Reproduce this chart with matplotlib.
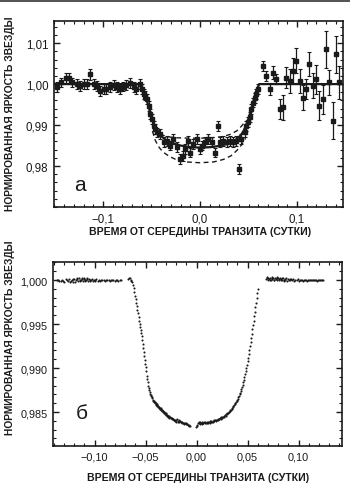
import matplotlib
matplotlib.use("Agg")
import matplotlib.pyplot as plt
from matplotlib.ticker import MultipleLocator
from matplotlib.patches import Rectangle

plt.rcParams['font.family'] = ['Liberation Sans', 'DejaVu Sans']

# ---------------- panel (a) data ----------------
top_t = [-0.1477, -0.1436, -0.1385, -0.1350, -0.1316, -0.1272, -0.1238, -0.1197, -0.1162, -0.1135,
         -0.1094, -0.1060, -0.1026, -0.0991, -0.0964, -0.0930, -0.0889, -0.0855, -0.0827, -0.0793,
         -0.0759, -0.0718, -0.0684, -0.0656, -0.0622,
         -0.0598, -0.0581, -0.0564, -0.0547, -0.0530, -0.0513, -0.0496, -0.0479, -0.0462, -0.0444,
         -0.0410, -0.0376, -0.0342,
         -0.0308, -0.0274, -0.0239, -0.0205, -0.0178, -0.0154, -0.0120, -0.0103, -0.0068, -0.0034,
         0.0000, 0.0017, 0.0051, 0.0085, 0.0120, 0.0154, 0.0188, 0.0205, 0.0239, 0.0274, 0.0308,
         0.0342, 0.0376, 0.0403, 0.0427, 0.0462, 0.0479, 0.0496, 0.0513, 0.0530, 0.0547, 0.0564,
         0.0581, 0.0598,
         0.0650, 0.0684, 0.0718, 0.0752, 0.0786, 0.0821, 0.0855, 0.0889, 0.0923, 0.0957, 0.0991,
         0.1026, 0.1060, 0.1094, 0.1128, 0.1162, 0.1197, 0.1231, 0.1265, 0.1299, 0.1333, 0.1368,
         0.1402, 0.1436]
top_f = [0.9992, 1.0004, 1.0014, 1.0015, 1.0004, 1.0000, 0.9996, 1.0000, 1.0000, 1.0024,
         1.0000, 0.9996, 0.9984, 0.9988, 0.9989, 0.9992, 0.9998, 0.9992, 0.9988, 0.9994,
         0.9998, 1.0002, 0.9992, 0.9989, 1.0000,
         0.9988, 0.9976, 0.9972, 0.9963, 0.9947, 0.9927, 0.9915, 0.9898, 0.9890, 0.9882,
         0.9878, 0.9858, 0.9862,
         0.9850, 0.9866, 0.9846, 0.9817, 0.9825, 0.9841, 0.9862, 0.9833, 0.9854, 0.9866,
         0.9841, 0.9850, 0.9858, 0.9866, 0.9858, 0.9833, 0.9898, 0.9858, 0.9862, 0.9858, 0.9862,
         0.9858, 0.9862, 0.9793, 0.9866, 0.9882, 0.9898, 0.9907, 0.9919, 0.9939, 0.9955, 0.9967,
         0.9976, 0.9988,
         1.0045, 1.0020, 0.9988, 1.0028, 1.0012, 0.9939, 0.9943, 1.0016, 1.0008, 1.0033, 1.0057,
         1.0008, 0.9967, 0.9988, 1.0049, 0.9996, 1.0012, 0.9947, 0.9963, 1.0085, 1.0004, 0.9911,
         1.0073, 1.0004]
top_e = [0.0012, 0.0012, 0.0012, 0.0012, 0.0012, 0.0012, 0.0012, 0.0012, 0.0012, 0.0013,
         0.0012, 0.0012, 0.0012, 0.0012, 0.0012, 0.0012, 0.0012, 0.0012, 0.0012, 0.0012,
         0.0012, 0.0012, 0.0012, 0.0012, 0.0012,
         0.0012, 0.0012, 0.0012, 0.0012, 0.0012, 0.0012, 0.0012, 0.0012, 0.0012, 0.0012,
         0.0012, 0.0012, 0.0012,
         0.0012, 0.0012, 0.0012, 0.0012, 0.0012, 0.0012, 0.0012, 0.0012, 0.0012, 0.0012,
         0.0012, 0.0012, 0.0012, 0.0012, 0.0012, 0.0012, 0.0012, 0.0012, 0.0012, 0.0012, 0.0012,
         0.0012, 0.0012, 0.0012, 0.0012, 0.0012, 0.0012, 0.0012, 0.0012, 0.0012, 0.0012, 0.0012,
         0.0012, 0.0012,
         0.0012, 0.0012, 0.0015, 0.0015, 0.0012, 0.0025, 0.0030, 0.0025, 0.0030, 0.0030, 0.0030,
         0.0030, 0.0030, 0.0025, 0.0030, 0.0030, 0.0035, 0.0035, 0.0035, 0.0045, 0.0030, 0.0045,
         0.0045, 0.0040]

# best-fit model (solid) and uncertainty envelope (dashed)
fit_t = [-0.150, -0.062, -0.058, -0.055, -0.052, -0.049, -0.046, -0.042, -0.036, -0.030,
         -0.020, -0.010, 0.000, 0.010, 0.020, 0.030, 0.036, 0.042, 0.046, 0.049,
         0.052, 0.055, 0.058, 0.061, 0.150]
fit_f = [1.0000, 1.0000, 0.9985, 0.9962, 0.9937, 0.9912, 0.9893, 0.9877, 0.9865, 0.9857,
         0.9850, 0.9846, 0.9845, 0.9846, 0.9849, 0.9855, 0.9862, 0.9875, 0.9890, 0.9908,
         0.9932, 0.9958, 0.9984, 1.0000, 1.0000]
hi_t = [-0.047, -0.043, -0.038, -0.032, -0.024, -0.012, 0.000, 0.012, 0.024, 0.032,
        0.038, 0.043, 0.047]
hi_f = [0.9893, 0.9882, 0.9875, 0.9871, 0.9869, 0.9868, 0.9868, 0.9869, 0.9872, 0.9878,
        0.9886, 0.9898, 0.9910]
lo_t = [-0.049, -0.046, -0.042, -0.038, -0.032, -0.024, -0.014, 0.000, 0.014, 0.024,
        0.032, 0.038, 0.043, 0.047]
lo_f = [0.9885, 0.9862, 0.9845, 0.9834, 0.9824, 0.9815, 0.9810, 0.9808, 0.9810, 0.9816,
        0.9825, 0.9838, 0.9852, 0.9868]

top_xticks = [-0.1, 0.0, 0.1]
top_xlabels = ['\u22120,1', '0,0', '0,1']
top_yticks = [0.98, 0.99, 1.00, 1.01]
top_ylabels = ['0,98', '0,99', '1,00', '1,01']

# ---------------- panel (б) data ----------------
pre_pts = [(-0.1370, 0.99995), (-0.1358, 1.00002), (-0.1345, 0.99985), (-0.1333, 0.99990),
           (-0.1320, 1.00005), (-0.1308, 0.99992), (-0.1296, 0.99980), (-0.1283, 1.00008),
           (-0.1271, 0.99996), (-0.1259, 0.99988), (-0.1246, 1.00012), (-0.1234, 0.99990),
           (-0.1222, 1.00006), (-0.1210, 0.99982), (-0.1198, 1.00015), (-0.1186, 0.99995),
           (-0.1174, 1.00010), (-0.1162, 0.99985), (-0.1150, 1.00018), (-0.1138, 0.99998),
           (-0.1126, 1.00012), (-0.1114, 0.99988), (-0.1102, 1.00020), (-0.1090, 1.00002),
           (-0.1078, 1.00015), (-0.1066, 0.99992), (-0.1054, 1.00010), (-0.1042, 0.99996),
           (-0.1030, 1.00006), (-0.1018, 0.99990), (-0.1006, 1.00004), (-0.0994, 0.99998),
           (-0.0982, 1.00008), (-0.0970, 0.99994), (-0.0958, 1.00002), (-0.0946, 0.99990),
           (-0.0934, 1.00005), (-0.0922, 0.99997), (-0.0910, 1.00003), (-0.0898, 0.99992),
           (-0.0886, 1.00001), (-0.0874, 0.99996), (-0.0862, 1.00004), (-0.0850, 0.99993),
           (-0.0838, 1.00000), (-0.0826, 0.99995), (-0.0814, 1.00003), (-0.0802, 0.99991),
           (-0.0790, 0.99998), (-0.0778, 1.00002), (-0.0766, 0.99994), (-0.0754, 0.99999),
           (-0.0742, 0.99996),
           (-0.1240, 0.99978), (-0.1215, 1.00016), (-0.1192, 0.99980), (-0.1168, 1.00022),
           (-0.1144, 0.99984), (-0.1120, 1.00024), (-0.1096, 0.99986), (-0.1072, 1.00020),
           (-0.1048, 0.99984), (-0.1024, 1.00012), (-0.1000, 0.99988), (-0.1132, 1.00004),
           (-0.1108, 1.00008), (-0.1084, 0.99996)]
cluster_pts = [(-0.0668, 1.00015), (-0.0660, 1.00025), (-0.0652, 1.00018), (-0.0645, 1.00005),
               (-0.0638, 0.99992)]
ingress_pts = [(-0.0628, 0.99975), (-0.0622, 0.99945), (-0.0616, 0.99905), (-0.0610, 0.99865),
               (-0.0604, 0.99820), (-0.0598, 0.99780), (-0.0592, 0.99742), (-0.0586, 0.99705),
               (-0.0580, 0.99662), (-0.0574, 0.99620), (-0.0568, 0.99578), (-0.0563, 0.99540),
               (-0.0558, 0.99505), (-0.0553, 0.99468), (-0.0548, 0.99430), (-0.0543, 0.99395),
               (-0.0538, 0.99360), (-0.0533, 0.99315), (-0.0528, 0.99272), (-0.0523, 0.99225),
               (-0.0518, 0.99178), (-0.0513, 0.99135), (-0.0508, 0.99092), (-0.0503, 0.99050),
               (-0.0498, 0.99010), (-0.0493, 0.98965), (-0.0488, 0.98915), (-0.0483, 0.98875),
               (-0.0478, 0.98838), (-0.0473, 0.98800), (-0.0468, 0.98772), (-0.0463, 0.98748),
               (-0.0458, 0.98728), (-0.0453, 0.98710), (-0.0448, 0.98695), (-0.0443, 0.98682),
               (-0.0438, 0.98668), (-0.0433, 0.98655), (-0.0428, 0.98642), (-0.0423, 0.98630),
               (-0.0418, 0.98622), (-0.0413, 0.98612)]
trough_l_pts = [(-0.0408, 0.98602), (-0.0405, 0.98615), (-0.0402, 0.98590), (-0.0398, 0.98598),
                (-0.0395, 0.98580), (-0.0391, 0.98592), (-0.0387, 0.98572), (-0.0383, 0.98585),
                (-0.0379, 0.98562), (-0.0375, 0.98570), (-0.0371, 0.98550), (-0.0367, 0.98562),
                (-0.0363, 0.98540), (-0.0359, 0.98548), (-0.0355, 0.98530), (-0.0351, 0.98542),
                (-0.0347, 0.98520), (-0.0343, 0.98528), (-0.0339, 0.98512), (-0.0335, 0.98522),
                (-0.0331, 0.98502), (-0.0327, 0.98510), (-0.0323, 0.98495), (-0.0319, 0.98502),
                (-0.0315, 0.98485), (-0.0311, 0.98492), (-0.0307, 0.98476), (-0.0303, 0.98484),
                (-0.0299, 0.98468), (-0.0295, 0.98475), (-0.0291, 0.98458), (-0.0287, 0.98466),
                (-0.0283, 0.98450), (-0.0279, 0.98458), (-0.0275, 0.98444), (-0.0270, 0.98450),
                (-0.0265, 0.98436), (-0.0260, 0.98444), (-0.0255, 0.98428), (-0.0250, 0.98436),
                (-0.0245, 0.98422), (-0.0240, 0.98430), (-0.0235, 0.98418), (-0.0230, 0.98425),
                (-0.0225, 0.98412), (-0.0220, 0.98404), (-0.0215, 0.98415), (-0.0210, 0.98400),
                (-0.0204, 0.98410), (-0.0198, 0.98392), (-0.0192, 0.98420), (-0.0186, 0.98398),
                (-0.0180, 0.98388), (-0.0174, 0.98405), (-0.0168, 0.98384), (-0.0162, 0.98398),
                (-0.0156, 0.98382), (-0.0150, 0.98392), (-0.0144, 0.98375), (-0.0138, 0.98386),
                (-0.0132, 0.98372), (-0.0126, 0.98380), (-0.0120, 0.98368), (-0.0114, 0.98376),
                (-0.0108, 0.98364), (-0.0102, 0.98370), (-0.0096, 0.98360), (-0.0090, 0.98366),
                (-0.0084, 0.98355), (-0.0078, 0.98350), (-0.0072, 0.98345), (-0.0066, 0.98338)]
trough_r_pts = [(-0.0004, 0.98326), (0.0002, 0.98340), (0.0008, 0.98358), (0.0014, 0.98372),
                (0.0020, 0.98386), (0.0026, 0.98378), (0.0032, 0.98365), (0.0038, 0.98382),
                (0.0044, 0.98370), (0.0050, 0.98384), (0.0056, 0.98368), (0.0062, 0.98380),
                (0.0068, 0.98372), (0.0074, 0.98386), (0.0080, 0.98374), (0.0086, 0.98385),
                (0.0092, 0.98372), (0.0098, 0.98388), (0.0104, 0.98376), (0.0110, 0.98390),
                (0.0116, 0.98378), (0.0122, 0.98392), (0.0128, 0.98380), (0.0134, 0.98395),
                (0.0140, 0.98384), (0.0146, 0.98398), (0.0152, 0.98386), (0.0158, 0.98400),
                (0.0164, 0.98390), (0.0170, 0.98404), (0.0176, 0.98394), (0.0182, 0.98408),
                (0.0188, 0.98400), (0.0194, 0.98414), (0.0200, 0.98404), (0.0206, 0.98418),
                (0.0212, 0.98410), (0.0218, 0.98424), (0.0224, 0.98416), (0.0230, 0.98430),
                (0.0236, 0.98424), (0.0242, 0.98438), (0.0248, 0.98432), (0.0254, 0.98446),
                (0.0260, 0.98440), (0.0266, 0.98454), (0.0272, 0.98448), (0.0278, 0.98464),
                (0.0284, 0.98460), (0.0290, 0.98474), (0.0296, 0.98472), (0.0302, 0.98486),
                (0.0308, 0.98484), (0.0314, 0.98498), (0.0320, 0.98500), (0.0326, 0.98512),
                (0.0332, 0.98518), (0.0338, 0.98528), (0.0344, 0.98536), (0.0350, 0.98546),
                (0.0356, 0.98556), (0.0362, 0.98566), (0.0368, 0.98578), (0.0374, 0.98588),
                (0.0380, 0.98600), (0.0386, 0.98612), (0.0392, 0.98624), (0.0398, 0.98638)]
egress_pts = [(0.0404, 0.98652), (0.0410, 0.98668), (0.0416, 0.98684), (0.0422, 0.98700),
              (0.0428, 0.98718), (0.0434, 0.98738), (0.0440, 0.98760), (0.0446, 0.98784),
              (0.0452, 0.98810), (0.0458, 0.98838), (0.0464, 0.98866), (0.0470, 0.98896),
              (0.0476, 0.98928), (0.0482, 0.98962), (0.0488, 0.98998), (0.0494, 0.99036),
              (0.0500, 0.99076), (0.0506, 0.99116), (0.0512, 0.99158), (0.0518, 0.99205),
              (0.0524, 0.99250), (0.0530, 0.99298), (0.0536, 0.99345), (0.0542, 0.99392),
              (0.0548, 0.99440), (0.0554, 0.99488), (0.0560, 0.99538), (0.0566, 0.99588),
              (0.0572, 0.99638), (0.0578, 0.99690), (0.0584, 0.99742), (0.0590, 0.99800),
              (0.0596, 0.99855), (0.0602, 0.99900)]
post_pts = [(0.0680, 1.00008), (0.0688, 1.00018), (0.0696, 1.00002), (0.0704, 1.00022),
            (0.0712, 1.00010), (0.0720, 1.00026), (0.0728, 1.00006), (0.0736, 1.00020),
            (0.0744, 1.00012), (0.0752, 1.00028), (0.0760, 1.00004), (0.0768, 1.00022),
            (0.0776, 1.00010), (0.0784, 1.00026), (0.0792, 1.00002), (0.0800, 1.00020),
            (0.0808, 1.00008), (0.0816, 1.00024), (0.0824, 0.99998), (0.0832, 1.00016),
            (0.0840, 1.00006), (0.0848, 1.00022), (0.0856, 0.99996), (0.0864, 1.00014),
            (0.0872, 1.00004), (0.0880, 1.00018), (0.0888, 0.99994), (0.0896, 1.00012),
            (0.0904, 1.00002), (0.0912, 1.00014), (0.0920, 0.99996), (0.0930, 1.00008),
            (0.0940, 1.00000), (0.0950, 1.00010), (0.0960, 0.99994), (0.0970, 1.00006),
            (0.0980, 0.99998), (0.0990, 1.00008), (0.1000, 0.99992), (0.1010, 1.00004),
            (0.1020, 0.99998), (0.1030, 1.00006), (0.1040, 0.99994), (0.1050, 1.00003),
            (0.1060, 0.99997), (0.1070, 1.00005), (0.1080, 0.99994), (0.1090, 1.00002),
            (0.1100, 0.99998), (0.1110, 1.00004), (0.1120, 0.99995), (0.1130, 1.00002),
            (0.1140, 0.99996), (0.1150, 1.00003), (0.1160, 0.99998), (0.1170, 1.00001),
            (0.1180, 0.99994), (0.1190, 1.00002), (0.1200, 0.99997), (0.1210, 1.00000),
            (0.1220, 0.99996), (0.1230, 1.00002), (0.1240, 0.99998),
            (0.0692, 1.00030), (0.0716, 0.99996), (0.0740, 1.00032), (0.0764, 0.99998),
            (0.0788, 1.00030), (0.0812, 0.99996), (0.0836, 1.00028), (0.0860, 0.99990)]

bot_xticks = [-0.10, -0.05, 0.00, 0.05, 0.10]
bot_xlabels = ['\u22120,10', '\u22120,05', '0,00', '0,05', '0,10']
bot_yticks = [0.985, 0.990, 0.995, 1.000]
bot_ylabels = ['0,985', '0,990', '0,995', '1,000']

ylabel_text = 'НОРМИРОВАННАЯ ЯРКОСТЬ ЗВЕЗДЫ'
xlabel_text = 'ВРЕМЯ ОТ СЕРЕДИНЫ ТРАНЗИТА (СУТКИ)'

# ---------------- figure ----------------
W, H = 350, 485
fig = plt.figure(figsize=(W / 100, H / 100), dpi=100)
fig.patch.set_facecolor('white')

def ax_rect(l, t, r, b):
    return [l / W, 1 - b / H, (r - l) / W, (b - t) / H]

ax1 = fig.add_axes(ax_rect(54, 22, 343, 208))
ax2 = fig.add_axes(ax_rect(53, 263, 342, 447))

ink = '#1a1a1a'

def style(ax):
    for s in ax.spines.values():
        s.set_linewidth(1.2)
        s.set_color(ink)
    ax.tick_params(which='both', direction='in', top=True, right=True, colors=ink)
    ax.tick_params(which='major', length=4.5, width=1.0, labelsize=8.3, pad=4)
    ax.tick_params(which='minor', length=2.5, width=0.8)

# panel a
ax1.errorbar(top_t, top_f, yerr=top_e, fmt='s', ms=2.3, color=ink, ecolor=ink,
             elinewidth=0.9, capsize=1.4, capthick=0.8, zorder=3)
ax1.plot(fit_t, fit_f, '-', color=ink, lw=1.6, zorder=2)
ax1.plot(hi_t, hi_f, '--', color=ink, lw=1.0, dashes=(3.5, 2.5), zorder=2)
ax1.plot(lo_t, lo_f, '--', color=ink, lw=1.0, dashes=(3.5, 2.5), zorder=2)
ax1.set_xlim(-0.1505, 0.1474)
ax1.set_ylim(0.9700, 1.0154)
ax1.set_xticks(top_xticks)
ax1.set_xticklabels(top_xlabels)
ax1.set_yticks(top_yticks)
ax1.set_yticklabels(top_ylabels)
ax1.xaxis.set_minor_locator(MultipleLocator(0.01))
ax1.yaxis.set_minor_locator(MultipleLocator(0.002))
style(ax1)
ax1.text(0.09, 0.12, 'а', transform=ax1.transAxes, fontsize=15, color=ink,
         ha='center', va='center')

# panel b
for seg in (pre_pts, cluster_pts, ingress_pts, trough_l_pts, trough_r_pts, egress_pts, post_pts):
    xs = [p[0] for p in seg]
    ys = [p[1] for p in seg]
    ax2.plot(xs, ys, 'o', ms=1.5, mew=0, color=ink, zorder=3)
ax2.set_xlim(-0.1407, 0.1426)
ax2.set_ylim(0.98114, 1.00205)
ax2.set_xticks(bot_xticks)
ax2.set_xticklabels(bot_xlabels)
ax2.set_yticks(bot_yticks)
ax2.set_yticklabels(bot_ylabels)
ax2.xaxis.set_minor_locator(MultipleLocator(0.01))
ax2.yaxis.set_minor_locator(MultipleLocator(0.001))
style(ax2)
ax2.tick_params(which='major', labelsize=7.8)
ax2.text(0.10, 0.18, 'б', transform=ax2.transAxes, fontsize=15, color=ink,
         ha='center', va='center')

# axis titles
fig.text(200 / W, 1 - 232 / H, xlabel_text, ha='center', va='center',
         fontsize=7.6, fontweight='bold', color=ink)
fig.text(198 / W, 1 - 478 / H, xlabel_text, ha='center', va='center',
         fontsize=7.6, fontweight='bold', color=ink)
fig.text(10 / W, 1 - 114 / H, ylabel_text, ha='center', va='center', rotation=90,
         fontsize=7.4, fontweight='bold', color=ink)
fig.text(10 / W, 1 - 338 / H, ylabel_text, ha='center', va='center', rotation=90,
         fontsize=7.4, fontweight='bold', color=ink)

# scan border at the top
fig.patches.append(Rectangle((0, 1 - 3 / H), 1, 3 / H, transform=fig.transFigure,
                             facecolor='#555555', edgecolor='none'))

fig.savefig('out.png', dpi=100)
